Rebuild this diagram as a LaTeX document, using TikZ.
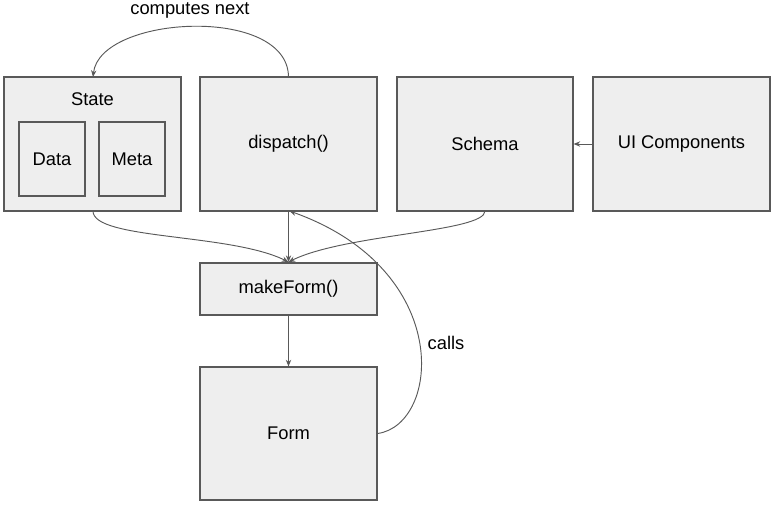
\documentclass[tikz,border=0pt]{standalone}
\usepackage{fontspec}
\setmainfont{Liberation Sans}
\usetikzlibrary{arrows.meta}
\definecolor{boxfill}{HTML}{EEEEEE}
\definecolor{boxline}{HTML}{595959}
\begin{document}
\begin{tikzpicture}[x=0.75pt,y=-0.75pt,
  box/.style={draw=boxline,fill=boxfill,line width=0.8pt,inner sep=0pt,font=\fontsize{13.75}{16}\selectfont},
  conn/.style={draw=boxline,line width=0.7pt,-{Stealth[length=5pt,width=4pt]}},
  lbl/.style={font=\fontsize{13.75}{16}\selectfont}]
\useasboundingbox (0,0) rectangle (775,504);
\node[box,minimum width=132.75pt,minimum height=100.5pt] (state) at (92.5,144) {};
\node[lbl] (statelbl) at (92.5,99) {State};
\node[box,minimum width=49.5pt,minimum height=55.5pt] (data) at (52,159) {Data};
\node[box,minimum width=49.5pt,minimum height=55.5pt] (meta) at (132,159) {Meta};
\node[box,minimum width=132.75pt,minimum height=100.5pt] (disp) at (288.5,144) {dispatch()};
\node[box,minimum width=132pt,minimum height=100.5pt] (schema) at (485,144) {Schema};
\node[box,minimum width=132.75pt,minimum height=100.5pt] (ui) at (681.5,144) {UI Components};
\node[box,minimum width=132.75pt,minimum height=39pt] (mf) at (288.5,289) {makeForm()};
\node[box,minimum width=132.75pt,minimum height=99.75pt] (form) at (288.5,433.5) {Form};
\coordinate (mftop) at (288.5,262);
\coordinate (disptop) at (288.5,77);
\coordinate (statetop) at (93,77);
\coordinate (statebot) at (93,211);
\coordinate (schemabot) at (485,211);
\coordinate (dispbot) at (289.5,211);
\draw[conn] (disptop) .. controls (288,5) and (100,15) .. (statetop);
\node[lbl] (cn) at (190,10) {computes next};
\draw[conn] (statebot) .. controls (93,240) and (230,233) .. (mftop);
\draw[conn] (schemabot) .. controls (485,232) and (345,234) .. (mftop);
\draw[conn] (disp.south) -- (mftop);
\draw[conn] (mf.south) -- (form.north);
\draw[conn] (ui.west) -- (schema.east);
\draw[conn] (form.east) .. controls (440,425) and (455,270) .. (dispbot);
\node[lbl] (calls) at (446,343) {calls};
\end{tikzpicture}
\end{document}
